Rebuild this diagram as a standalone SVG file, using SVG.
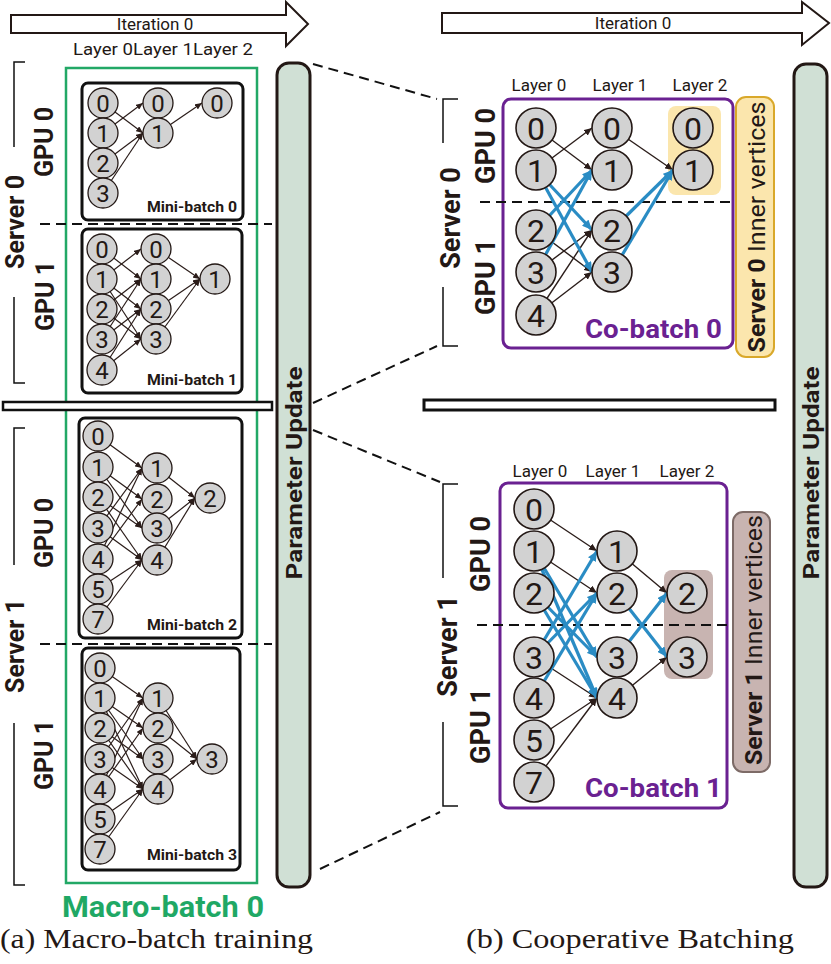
<svg xmlns="http://www.w3.org/2000/svg" width="831" height="964" viewBox="0 0 831 964" font-family="Roboto, 'Liberation Sans', Arial, sans-serif">
<defs>
<style>
text{font-family:Roboto,'Liberation Sans',Arial,sans-serif;fill:#231815}
.serif{font-family:'Liberation Serif','Times New Roman',serif}
.sn circle{fill:#d2d2d2;stroke:#231815;stroke-width:1.3}
.sn text{font-size:24px;text-anchor:middle}
.ln circle{fill:#d2d2d2;stroke:#231815;stroke-width:1.6}
.ln text{font-size:32px;text-anchor:middle}
.e{stroke:#2b1d1a;stroke-width:1.2;fill:none;marker-end:url(#ah)}
.eb{stroke:#2b1d1a;stroke-width:1.4;fill:none;marker-end:url(#ahk)}
.ebl{stroke:#2a8cc4;stroke-width:3.2;fill:none;marker-end:url(#ahb)}
.mb{fill:#fff;stroke:#111;stroke-width:3}
.dash{stroke:#111;stroke-width:2;stroke-dasharray:10 6;fill:none}
.br{stroke:#111;stroke-width:1.5;fill:none}
.rot{font-weight:bold;text-anchor:middle}
.mbl{font-weight:bold;font-size:14px;text-anchor:end}
.cb{font-weight:bold;font-size:26px;text-anchor:end;fill:#6a2191}
.lay{font-size:17px;text-anchor:middle}
.bar{fill:#d0e0d5;stroke:#231815;stroke-width:3}
</style>
<marker id="ah" markerUnits="userSpaceOnUse" markerWidth="7" markerHeight="6" refX="7" refY="3" orient="auto"><path d="M0,0 L7,3 L0,6 z" fill="#2b1d1a"/></marker>
<marker id="ahk" markerUnits="userSpaceOnUse" markerWidth="8" markerHeight="7" refX="8" refY="3.5" orient="auto"><path d="M0,0 L8,3.5 L0,7 z" fill="#2b1d1a"/></marker>
<marker id="ahb" markerUnits="userSpaceOnUse" markerWidth="10" markerHeight="9" refX="10" refY="4.5" orient="auto"><path d="M0,0 L10,4.5 L0,9 z" fill="#2a8cc4"/></marker>
</defs>
<rect width="831" height="964" fill="#fff"/>

<!-- Iteration arrows -->
<g id="iter-left">
<polygon points="11,15 286,15 286,2 308,24 286,46 286,33 11,33" fill="#fff" stroke="#231815" stroke-width="2"/>
<text x="155" y="30" font-size="17" text-anchor="middle">Iteration 0</text>
</g>
<g id="iter-right">
<polygon points="442,13 802,13 802,2 829,23 802,45 802,33 442,33" fill="#fff" stroke="#231815" stroke-width="2"/>
<text x="633" y="29" font-size="17" text-anchor="middle">Iteration 0</text>
</g>
<text x="73" y="55" font-size="16.5" textLength="180" lengthAdjust="spacingAndGlyphs">Layer 0Layer 1Layer 2</text>

<!-- Left: macro-batch box -->
<g id="macro-batch">
<rect x="66" y="68" width="191" height="815" fill="none" stroke="#22a866" stroke-width="2.5"/>
<text x="163" y="917" font-size="29" font-weight="bold" text-anchor="middle" style="fill:#1fa865" textLength="202" lengthAdjust="spacingAndGlyphs">Macro-batch 0</text>
</g>
<rect class="mb" x="82" y="83" width="161" height="137" rx="6"/>
<rect class="mb" x="82" y="229" width="160" height="164" rx="6"/>
<rect class="mb" x="79" y="418" width="163" height="220" rx="6"/>
<rect class="mb" x="82" y="648" width="158" height="222" rx="6"/>
<line class="dash" x1="40" y1="224" x2="272" y2="224"/>
<line class="dash" x1="40" y1="644" x2="272" y2="644"/>
<rect x="3" y="402" width="269" height="8" fill="#fff" stroke="#111" stroke-width="2.5"/>

<!-- left brackets -->
<path class="br" d="M25,62 H14 V147 M14,297 V383 H25"/>
<path class="br" d="M25,428 H14 V565 M14,723 V885 H25"/>
<text class="rot" font-size="25" transform="translate(24,222) rotate(-90)">Server 0</text>
<text class="rot" font-size="25" transform="translate(53,142) rotate(-90)">GPU 0</text>
<text class="rot" font-size="25" transform="translate(54,296) rotate(-90)">GPU 1</text>
<text class="rot" font-size="25" transform="translate(24,646) rotate(-90)">Server 1</text>
<text class="rot" font-size="25" transform="translate(53,533) rotate(-90)">GPU 0</text>
<text class="rot" font-size="25" transform="translate(53,755) rotate(-90)">GPU 1</text>

<!-- Parameter update bars -->
<g id="param-left">
<rect class="bar" x="277" y="63" width="33" height="824" rx="12"/>
<text class="rot" font-size="22" transform="translate(302,473) rotate(-90)" textLength="213" lengthAdjust="spacingAndGlyphs">Parameter Update</text>
</g>
<g id="param-right">
<rect class="bar" x="794" y="64" width="33" height="823" rx="12"/>
<text class="rot" font-size="22" transform="translate(819,473) rotate(-90)" textLength="213" lengthAdjust="spacingAndGlyphs">Parameter Update</text>
</g>

<!-- Right panel containers -->
<g id="cobatch0-box">
<rect x="503" y="99" width="230" height="249" rx="8" fill="#fff" stroke="#6a2191" stroke-width="3"/>
<rect x="668" y="106" width="53" height="89" rx="8" fill="#fbe6ad"/>
<line class="dash" x1="480" y1="202" x2="733" y2="202"/>
<text class="cb" x="722" y="338" textLength="137" lengthAdjust="spacingAndGlyphs">Co-batch 0</text>
</g>
<g id="cobatch1-box">
<rect x="500" y="483" width="227" height="325" rx="8" fill="#fff" stroke="#6a2191" stroke-width="3"/>
<rect x="664" y="570" width="49" height="109" rx="8" fill="#c8b4b1"/>
<line class="dash" x1="477" y1="625" x2="727" y2="625"/>
<text class="cb" x="722" y="797" textLength="137" lengthAdjust="spacingAndGlyphs">Co-batch 1</text>
</g>
<g id="inner0">
<rect x="736" y="97" width="38" height="260" rx="10" fill="#fbe6ad" stroke="#d9a82a" stroke-width="2"/>
<text font-size="24" text-anchor="middle" transform="translate(765,227) rotate(-90)" textLength="251" lengthAdjust="spacingAndGlyphs"><tspan font-weight="bold">Server 0</tspan> Inner vertices</text>
</g>
<g id="inner1">
<rect x="733" y="512" width="37" height="260" rx="10" fill="#c8b4b1" stroke="#7d6b67" stroke-width="2"/>
<text font-size="24" text-anchor="middle" transform="translate(762,640) rotate(-90)" textLength="250" lengthAdjust="spacingAndGlyphs"><tspan font-weight="bold">Server 1</tspan> Inner vertices</text>
</g>
<rect x="424" y="400" width="351" height="10" fill="#fff" stroke="#111" stroke-width="3"/>

<!-- right brackets and labels -->
<path class="br" d="M458,99 H443 V143 M443,287 V346 H458"/>
<path class="br" d="M458,484 H443 V578 M443,722 V806 H458"/>
<text class="rot" font-size="27" transform="translate(460,218) rotate(-90)">Server 0</text>
<text class="rot" font-size="27" transform="translate(495,146) rotate(-90)">GPU 0</text>
<text class="rot" font-size="27" transform="translate(495,277) rotate(-90)">GPU 1</text>
<text class="rot" font-size="27" transform="translate(457,646) rotate(-90)">Server 1</text>
<text class="rot" font-size="27" transform="translate(490,554) rotate(-90)">GPU 0</text>
<text class="rot" font-size="27" transform="translate(490,726) rotate(-90)">GPU 1</text>
<text class="lay" x="539" y="91">Layer 0</text><text class="lay" x="620" y="91">Layer 1</text><text class="lay" x="700" y="91">Layer 2</text>
<text class="lay" x="540" y="477">Layer 0</text><text class="lay" x="613" y="477">Layer 1</text><text class="lay" x="687" y="477">Layer 2</text>

<!-- Connectors -->
<g id="connectors">
<line class="dash" x1="313" y1="64" x2="437" y2="99"/>
<line class="dash" x1="313" y1="403" x2="437" y2="346"/>
<line class="dash" x1="313" y1="430" x2="440" y2="482"/>
<line class="dash" x1="320" y1="869" x2="440" y2="812"/>
<!-- mb0 -->
<line class="e" x1="103" y1="103" x2="143" y2="133"/>
<line class="e" x1="103" y1="133" x2="143" y2="103"/>
<line class="e" x1="103" y1="163" x2="143" y2="133"/>
<line class="e" x1="103" y1="193" x2="143" y2="133"/>
<line class="e" x1="158" y1="133" x2="202" y2="103"/>
<!-- mb1 -->
<line class="e" x1="102" y1="249" x2="141" y2="279"/>
<line class="e" x1="102" y1="279" x2="141" y2="249"/>
<line class="e" x1="102" y1="279" x2="141" y2="309"/>
<line class="e" x1="102" y1="279" x2="141" y2="339"/>
<line class="e" x1="102" y1="309" x2="141" y2="279"/>
<line class="e" x1="102" y1="309" x2="141" y2="339"/>
<line class="e" x1="102" y1="339" x2="141" y2="279"/>
<line class="e" x1="102" y1="339" x2="141" y2="309"/>
<line class="e" x1="102" y1="370" x2="141" y2="309"/>
<line class="e" x1="102" y1="370" x2="141" y2="339"/>
<line class="e" x1="156" y1="249" x2="200" y2="279"/>
<line class="e" x1="156" y1="309" x2="200" y2="279"/>
<line class="e" x1="156" y1="339" x2="200" y2="279"/>
<!-- mb2 -->
<line class="e" x1="98" y1="436" x2="142" y2="468"/>
<line class="e" x1="98" y1="467" x2="142" y2="499"/>
<line class="e" x1="98" y1="467" x2="142" y2="528"/>
<line class="e" x1="98" y1="497" x2="142" y2="528"/>
<line class="e" x1="98" y1="497" x2="142" y2="560"/>
<line class="e" x1="98" y1="528" x2="142" y2="468"/>
<line class="e" x1="98" y1="528" x2="142" y2="560"/>
<line class="e" x1="98" y1="559" x2="142" y2="468"/>
<line class="e" x1="98" y1="559" x2="142" y2="499"/>
<line class="e" x1="98" y1="589" x2="142" y2="560"/>
<line class="e" x1="98" y1="619" x2="142" y2="560"/>
<line class="e" x1="157" y1="468" x2="195" y2="498"/>
<line class="e" x1="157" y1="528" x2="195" y2="498"/>
<line class="e" x1="157" y1="560" x2="195" y2="498"/>
<!-- mb3 -->
<line class="e" x1="100" y1="668" x2="143" y2="698"/>
<line class="e" x1="100" y1="698" x2="143" y2="728"/>
<line class="e" x1="100" y1="698" x2="143" y2="759"/>
<line class="e" x1="100" y1="698" x2="143" y2="789"/>
<line class="e" x1="100" y1="728" x2="143" y2="759"/>
<line class="e" x1="100" y1="728" x2="143" y2="789"/>
<line class="e" x1="100" y1="759" x2="143" y2="698"/>
<line class="e" x1="100" y1="759" x2="143" y2="789"/>
<line class="e" x1="100" y1="789" x2="143" y2="698"/>
<line class="e" x1="100" y1="789" x2="143" y2="728"/>
<line class="e" x1="100" y1="819" x2="143" y2="789"/>
<line class="e" x1="100" y1="849" x2="143" y2="789"/>
<line class="e" x1="158" y1="698" x2="197" y2="759"/>
<line class="e" x1="158" y1="728" x2="197" y2="759"/>
<line class="e" x1="158" y1="789" x2="197" y2="759"/>
<!-- co-batch 0 -->
<line class="eb" x1="536" y1="128" x2="592" y2="170"/>
<line class="eb" x1="536" y1="170" x2="592" y2="128"/>
<line class="eb" x1="536" y1="230" x2="592" y2="272"/>
<line class="eb" x1="536" y1="272" x2="592" y2="230"/>
<line class="eb" x1="536" y1="315" x2="592" y2="230"/>
<line class="eb" x1="536" y1="315" x2="592" y2="272"/>
<line class="eb" x1="612" y1="128" x2="673" y2="170"/>
<line class="ebl" x1="536" y1="170" x2="592" y2="230"/>
<line class="ebl" x1="536" y1="170" x2="592" y2="272"/>
<line class="ebl" x1="536" y1="230" x2="592" y2="170"/>
<line class="ebl" x1="536" y1="272" x2="592" y2="170"/>
<line class="ebl" x1="612" y1="230" x2="673" y2="170"/>
<line class="ebl" x1="612" y1="272" x2="673" y2="170"/>
<!-- co-batch 1 -->
<line class="eb" x1="534" y1="509" x2="597" y2="551"/>
<line class="eb" x1="534" y1="551" x2="597" y2="593"/>
<line class="eb" x1="534" y1="657" x2="597" y2="698"/>
<line class="eb" x1="534" y1="740" x2="597" y2="698"/>
<line class="eb" x1="534" y1="782" x2="597" y2="698"/>
<line class="eb" x1="617" y1="551" x2="667" y2="593"/>
<line class="eb" x1="617" y1="698" x2="667" y2="657"/>
<line class="ebl" x1="534" y1="551" x2="597" y2="657"/>
<line class="ebl" x1="534" y1="551" x2="597" y2="698"/>
<line class="ebl" x1="534" y1="593" x2="597" y2="657"/>
<line class="ebl" x1="534" y1="593" x2="597" y2="698"/>
<line class="ebl" x1="534" y1="657" x2="597" y2="551"/>
<line class="ebl" x1="534" y1="657" x2="597" y2="593"/>
<line class="ebl" x1="534" y1="698" x2="597" y2="593"/>
<line class="ebl" x1="617" y1="593" x2="667" y2="657"/>
<line class="ebl" x1="617" y1="657" x2="667" y2="593"/>
</g>

<!-- Mini-batch labels -->
<text class="mbl" x="237" y="212" textLength="90" lengthAdjust="spacingAndGlyphs">Mini-batch 0</text>
<text class="mbl" x="237" y="385" textLength="90" lengthAdjust="spacingAndGlyphs">Mini-batch 1</text>
<text class="mbl" x="237" y="630" textLength="90" lengthAdjust="spacingAndGlyphs">Mini-batch 2</text>
<text class="mbl" x="237" y="860" textLength="90" lengthAdjust="spacingAndGlyphs">Mini-batch 3</text>

<!-- Nodes: mini-batch 0 -->
<g id="mb0-L0-0" class="sn"><circle cx="103" cy="103" r="15"/><text x="103" y="111.5">0</text></g>
<g id="mb0-L0-1" class="sn"><circle cx="103" cy="133" r="15"/><text x="103" y="141.5">1</text></g>
<g id="mb0-L0-2" class="sn"><circle cx="103" cy="163" r="15"/><text x="103" y="171.5">2</text></g>
<g id="mb0-L0-3" class="sn"><circle cx="103" cy="193" r="15"/><text x="103" y="201.5">3</text></g>
<g id="mb0-L1-0" class="sn"><circle cx="158" cy="103" r="15"/><text x="158" y="111.5">0</text></g>
<g id="mb0-L1-1" class="sn"><circle cx="158" cy="133" r="15"/><text x="158" y="141.5">1</text></g>
<g id="mb0-L2-0" class="sn"><circle cx="217" cy="103" r="15"/><text x="217" y="111.5">0</text></g>
<!-- mini-batch 1 -->
<g id="mb1-L0-0" class="sn"><circle cx="102" cy="249" r="15"/><text x="102" y="257.5">0</text></g>
<g id="mb1-L0-1" class="sn"><circle cx="102" cy="279" r="15"/><text x="102" y="287.5">1</text></g>
<g id="mb1-L0-2" class="sn"><circle cx="102" cy="309" r="15"/><text x="102" y="317.5">2</text></g>
<g id="mb1-L0-3" class="sn"><circle cx="102" cy="339" r="15"/><text x="102" y="347.5">3</text></g>
<g id="mb1-L0-4" class="sn"><circle cx="102" cy="370" r="15"/><text x="102" y="378.5">4</text></g>
<g id="mb1-L1-0" class="sn"><circle cx="156" cy="249" r="15"/><text x="156" y="257.5">0</text></g>
<g id="mb1-L1-1" class="sn"><circle cx="156" cy="279" r="15"/><text x="156" y="287.5">1</text></g>
<g id="mb1-L1-2" class="sn"><circle cx="156" cy="309" r="15"/><text x="156" y="317.5">2</text></g>
<g id="mb1-L1-3" class="sn"><circle cx="156" cy="339" r="15"/><text x="156" y="347.5">3</text></g>
<g id="mb1-L2-1" class="sn"><circle cx="215" cy="279" r="15"/><text x="215" y="287.5">1</text></g>
<!-- mini-batch 2 -->
<g id="mb2-L0-0" class="sn"><circle cx="98" cy="436" r="15"/><text x="98" y="444.5">0</text></g>
<g id="mb2-L0-1" class="sn"><circle cx="98" cy="467" r="15"/><text x="98" y="475.5">1</text></g>
<g id="mb2-L0-2" class="sn"><circle cx="98" cy="497" r="15"/><text x="98" y="505.5">2</text></g>
<g id="mb2-L0-3" class="sn"><circle cx="98" cy="528" r="15"/><text x="98" y="536.5">3</text></g>
<g id="mb2-L0-4" class="sn"><circle cx="98" cy="559" r="15"/><text x="98" y="567.5">4</text></g>
<g id="mb2-L0-5" class="sn"><circle cx="98" cy="589" r="15"/><text x="98" y="597.5">5</text></g>
<g id="mb2-L0-7" class="sn"><circle cx="98" cy="619" r="15"/><text x="98" y="627.5">7</text></g>
<g id="mb2-L1-1" class="sn"><circle cx="157" cy="468" r="15"/><text x="157" y="476.5">1</text></g>
<g id="mb2-L1-2" class="sn"><circle cx="157" cy="499" r="15"/><text x="157" y="507.5">2</text></g>
<g id="mb2-L1-3" class="sn"><circle cx="157" cy="528" r="15"/><text x="157" y="536.5">3</text></g>
<g id="mb2-L1-4" class="sn"><circle cx="157" cy="560" r="15"/><text x="157" y="568.5">4</text></g>
<g id="mb2-L2-2" class="sn"><circle cx="210" cy="498" r="15"/><text x="210" y="506.5">2</text></g>
<!-- mini-batch 3 -->
<g id="mb3-L0-0" class="sn"><circle cx="100" cy="668" r="15"/><text x="100" y="676.5">0</text></g>
<g id="mb3-L0-1" class="sn"><circle cx="100" cy="698" r="15"/><text x="100" y="706.5">1</text></g>
<g id="mb3-L0-2" class="sn"><circle cx="100" cy="728" r="15"/><text x="100" y="736.5">2</text></g>
<g id="mb3-L0-3" class="sn"><circle cx="100" cy="759" r="15"/><text x="100" y="767.5">3</text></g>
<g id="mb3-L0-4" class="sn"><circle cx="100" cy="789" r="15"/><text x="100" y="797.5">4</text></g>
<g id="mb3-L0-5" class="sn"><circle cx="100" cy="819" r="15"/><text x="100" y="827.5">5</text></g>
<g id="mb3-L0-7" class="sn"><circle cx="100" cy="849" r="15"/><text x="100" y="857.5">7</text></g>
<g id="mb3-L1-1" class="sn"><circle cx="158" cy="698" r="15"/><text x="158" y="706.5">1</text></g>
<g id="mb3-L1-2" class="sn"><circle cx="158" cy="728" r="15"/><text x="158" y="736.5">2</text></g>
<g id="mb3-L1-3" class="sn"><circle cx="158" cy="759" r="15"/><text x="158" y="767.5">3</text></g>
<g id="mb3-L1-4" class="sn"><circle cx="158" cy="789" r="15"/><text x="158" y="797.5">4</text></g>
<g id="mb3-L2-3" class="sn"><circle cx="212" cy="759" r="15"/><text x="212" y="767.5">3</text></g>
<!-- co-batch 0 -->
<g id="cb0-L0-0" class="ln"><circle cx="536" cy="128" r="20"/><text x="536" y="139.5">0</text></g>
<g id="cb0-L0-1" class="ln"><circle cx="536" cy="170" r="20"/><text x="536" y="181.5">1</text></g>
<g id="cb0-L0-2" class="ln"><circle cx="536" cy="230" r="20"/><text x="536" y="241.5">2</text></g>
<g id="cb0-L0-3" class="ln"><circle cx="536" cy="272" r="20"/><text x="536" y="283.5">3</text></g>
<g id="cb0-L0-4" class="ln"><circle cx="536" cy="315" r="20"/><text x="536" y="326.5">4</text></g>
<g id="cb0-L1-0" class="ln"><circle cx="612" cy="128" r="20"/><text x="612" y="139.5">0</text></g>
<g id="cb0-L1-1" class="ln"><circle cx="612" cy="170" r="20"/><text x="612" y="181.5">1</text></g>
<g id="cb0-L1-2" class="ln"><circle cx="612" cy="230" r="20"/><text x="612" y="241.5">2</text></g>
<g id="cb0-L1-3" class="ln"><circle cx="612" cy="272" r="20"/><text x="612" y="283.5">3</text></g>
<g id="cb0-L2-0" class="ln"><circle cx="693" cy="128" r="20"/><text x="693" y="139.5">0</text></g>
<g id="cb0-L2-1" class="ln"><circle cx="693" cy="170" r="20"/><text x="693" y="181.5">1</text></g>
<!-- co-batch 1 -->
<g id="cb1-L0-0" class="ln"><circle cx="534" cy="509" r="20"/><text x="534" y="520.5">0</text></g>
<g id="cb1-L0-1" class="ln"><circle cx="534" cy="551" r="20"/><text x="534" y="562.5">1</text></g>
<g id="cb1-L0-2" class="ln"><circle cx="534" cy="593" r="20"/><text x="534" y="604.5">2</text></g>
<g id="cb1-L0-3" class="ln"><circle cx="534" cy="657" r="20"/><text x="534" y="668.5">3</text></g>
<g id="cb1-L0-4" class="ln"><circle cx="534" cy="698" r="20"/><text x="534" y="709.5">4</text></g>
<g id="cb1-L0-5" class="ln"><circle cx="534" cy="740" r="20"/><text x="534" y="751.5">5</text></g>
<g id="cb1-L0-7" class="ln"><circle cx="534" cy="782" r="20"/><text x="534" y="793.5">7</text></g>
<g id="cb1-L1-1" class="ln"><circle cx="617" cy="551" r="20"/><text x="617" y="562.5">1</text></g>
<g id="cb1-L1-2" class="ln"><circle cx="617" cy="593" r="20"/><text x="617" y="604.5">2</text></g>
<g id="cb1-L1-3" class="ln"><circle cx="617" cy="657" r="20"/><text x="617" y="668.5">3</text></g>
<g id="cb1-L1-4" class="ln"><circle cx="617" cy="698" r="20"/><text x="617" y="709.5">4</text></g>
<g id="cb1-L2-2" class="ln"><circle cx="687" cy="593" r="20"/><text x="687" y="604.5">2</text></g>
<g id="cb1-L2-3" class="ln"><circle cx="687" cy="657" r="20"/><text x="687" y="668.5">3</text></g>

<!-- captions -->
<text class="serif" x="0" y="948" font-size="28" textLength="313" lengthAdjust="spacingAndGlyphs">(a) Macro-batch training</text>
<text class="serif" x="466" y="948" font-size="28" textLength="328" lengthAdjust="spacingAndGlyphs">(b) Cooperative Batching</text>
</svg>
